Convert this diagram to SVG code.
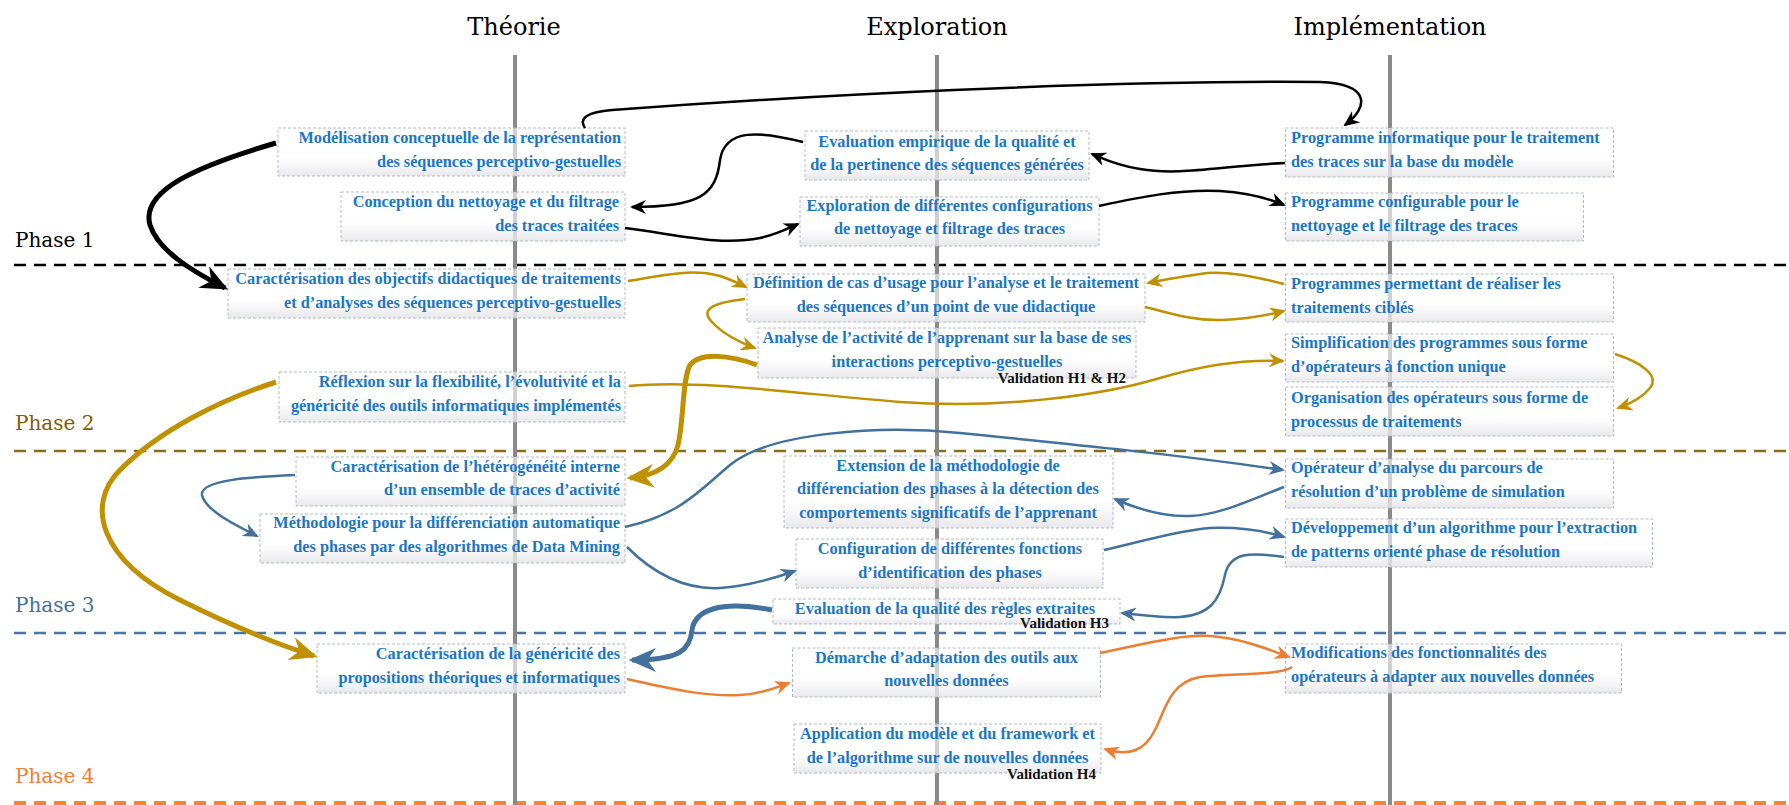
<svg xmlns="http://www.w3.org/2000/svg" width="1789" height="805" viewBox="0 0 1789 805">
<style>
.title{font-family:"DejaVu Serif","Liberation Serif",serif;font-size:24px;fill:#000}
.phase{font-family:"DejaVu Serif","Liberation Serif",serif;font-size:20px}
.box{fill:url(#boxg);stroke:#b4b8cc;stroke-width:1;stroke-dasharray:3 2}
.t{font-family:"Liberation Serif","Times New Roman",serif;font-weight:bold;font-size:16.3px;fill:#1b76c6}
.val{font-family:"Liberation Serif","Times New Roman",serif;font-weight:bold;font-size:15px;fill:#111;text-anchor:end}
.e{text-anchor:end}.m{text-anchor:middle}
.vl{stroke:#8a8a8a;stroke-width:4}
.c{fill:none;stroke-width:2.5}
.thick{stroke-width:5}
.k{stroke:#000}.g{stroke:#bf9000}.b{stroke:#41719c}.o{stroke:#ed7d31}
</style>
<defs>
<linearGradient id="boxg" x1="0" y1="0" x2="0" y2="1">
<stop offset="0" stop-color="#fff" stop-opacity="0.6"/>
<stop offset="0.6" stop-color="#fff" stop-opacity="0.6"/>
<stop offset="1" stop-color="#e4e4e8" stop-opacity="0.85"/>
</linearGradient>
<marker id="ak" viewBox="0 0 16 14" refX="14" refY="7" markerWidth="16" markerHeight="14" markerUnits="userSpaceOnUse" orient="auto"><path d="M0,0 L16,7 L0,14 L5,7 Z" fill="#000"/></marker>
<marker id="akB" viewBox="0 0 16 14" refX="14" refY="7" markerWidth="28" markerHeight="24" markerUnits="userSpaceOnUse" orient="auto"><path d="M0,0 L16,7 L0,14 L5,7 Z" fill="#000"/></marker>
<marker id="ag" viewBox="0 0 16 14" refX="14" refY="7" markerWidth="16" markerHeight="14" markerUnits="userSpaceOnUse" orient="auto"><path d="M0,0 L16,7 L0,14 L5,7 Z" fill="#bf9000"/></marker>
<marker id="agB" viewBox="0 0 16 14" refX="14" refY="7" markerWidth="28" markerHeight="24" markerUnits="userSpaceOnUse" orient="auto"><path d="M0,0 L16,7 L0,14 L5,7 Z" fill="#bf9000"/></marker>
<marker id="ab" viewBox="0 0 16 14" refX="14" refY="7" markerWidth="16" markerHeight="14" markerUnits="userSpaceOnUse" orient="auto"><path d="M0,0 L16,7 L0,14 L5,7 Z" fill="#41719c"/></marker>
<marker id="abB" viewBox="0 0 16 14" refX="14" refY="7" markerWidth="28" markerHeight="24" markerUnits="userSpaceOnUse" orient="auto"><path d="M0,0 L16,7 L0,14 L5,7 Z" fill="#41719c"/></marker>
<marker id="ao" viewBox="0 0 16 14" refX="14" refY="7" markerWidth="16" markerHeight="14" markerUnits="userSpaceOnUse" orient="auto"><path d="M0,0 L16,7 L0,14 L5,7 Z" fill="#ed7d31"/></marker>
</defs>
<rect width="1789" height="805" fill="#fff"/>

<g id="headers">
<text class="title" x="514" y="35" text-anchor="middle">Théorie</text>
<text class="title" x="937" y="35" text-anchor="middle">Exploration</text>
<text class="title" x="1390" y="35" text-anchor="middle">Implémentation</text>
</g>

<g id="phases">
<line x1="14" y1="265" x2="1789" y2="265" stroke="#000" stroke-width="2.5" stroke-dasharray="12 8"/>
<line x1="14" y1="451" x2="1789" y2="451" stroke="#8b6d14" stroke-width="2.5" stroke-dasharray="12 8"/>
<line x1="14" y1="633" x2="1789" y2="633" stroke="#4a74a5" stroke-width="2.5" stroke-dasharray="12 8"/>
<line x1="14" y1="803" x2="1789" y2="803" stroke="#f0843c" stroke-width="4" stroke-dasharray="12 8"/>
<text class="phase" x="15" y="247" fill="#000">Phase 1</text>
<text class="phase" x="15" y="430" fill="#7f6000">Phase 2</text>
<text class="phase" x="15" y="612" fill="#44709e">Phase 3</text>
<text class="phase" x="15" y="783" fill="#f07f35">Phase 4</text>
</g>

<g id="axes">
<line class="vl" x1="515" y1="55" x2="515" y2="805"/>
<line class="vl" x1="937" y1="55" x2="937" y2="805"/>
<line class="vl" x1="1390" y1="55" x2="1390" y2="805"/>
</g>

<g id="nodes">
<g id="nA"><rect class="box" x="278" y="128" width="347" height="48"/><text class="t e" x="621" y="143">Modélisation conceptuelle de la représentation</text><text class="t e" x="621" y="167">des séquences perceptivo-gestuelles</text></g>
<g id="nB"><rect class="box" x="341" y="192" width="284" height="49"/><text class="t e" x="619" y="207">Conception du nettoyage et du filtrage</text><text class="t e" x="619" y="231">des traces traitées</text></g>
<g id="nC"><rect class="box" x="805" y="131" width="284" height="49"/><text class="t m" x="947" y="147">Evaluation empirique de la qualité et</text><text class="t m" x="947" y="170">de la pertinence des séquences générées</text></g>
<g id="nD"><rect class="box" x="800" y="197" width="299" height="49"/><text class="t m" x="949.5" y="211">Exploration de différentes configurations</text><text class="t m" x="949.5" y="234">de nettoyage et filtrage des traces</text></g>
<g id="nE"><rect class="box" x="1285.5" y="128" width="328" height="49"/><text class="t" x="1291" y="143">Programme informatique pour  le traitement</text><text class="t" x="1291" y="167">des traces sur la base du modèle</text></g>
<g id="nF"><rect class="box" x="1285.5" y="193" width="298" height="48"/><text class="t" x="1291" y="207">Programme configurable pour le</text><text class="t" x="1291" y="231">nettoyage et le filtrage des traces</text></g>
<g id="nG"><rect class="box" x="228" y="269" width="397" height="49"/><text class="t e" x="621" y="284">Caractérisation des objectifs didactiques de traitements</text><text class="t e" x="621" y="308">et d’analyses des séquences perceptivo-gestuelles</text></g>
<g id="nH"><rect class="box" x="279" y="372" width="346" height="50"/><text class="t e" x="621" y="387">Réflexion sur la flexibilité, l’évolutivité et la</text><text class="t e" x="621" y="411">généricité des outils informatiques implémentés</text></g>
<g id="nI"><rect class="box" x="747" y="274" width="398" height="48"/><text class="t m" x="946" y="288">Définition de cas d’usage pour l’analyse et le traitement</text><text class="t m" x="946" y="312">des séquences d’un point de vue didactique</text></g>
<g id="nJ"><rect class="box" x="758" y="328" width="378" height="50"/><text class="t m" x="947" y="343">Analyse de l’activité de l’apprenant sur la base de ses</text><text class="t m" x="947" y="367">interactions perceptivo-gestuelles</text><text class="val" x="1126" y="383">Validation H1 &amp; H2</text></g>
<g id="nK"><rect class="box" x="1285.5" y="274" width="328" height="48"/><text class="t" x="1291" y="289">Programmes permettant de réaliser les</text><text class="t" x="1291" y="313">traitements ciblés</text></g>
<g id="nL"><rect class="box" x="1285.5" y="334" width="328" height="48"/><text class="t" x="1291" y="348">Simplification des programmes sous forme</text><text class="t" x="1291" y="372">d’opérateurs à fonction unique</text></g>
<g id="nM"><rect class="box" x="1285.5" y="387" width="328" height="49"/><text class="t" x="1291" y="403">Organisation des opérateurs sous forme de</text><text class="t" x="1291" y="427">processus de traitements</text></g>
<g id="nN"><rect class="box" x="296" y="457" width="329" height="49"/><text class="t e" x="620" y="472">Caractérisation de l’hétérogénéité interne</text><text class="t e" x="620" y="495">d’un ensemble de traces d’activité</text></g>
<g id="nO"><rect class="box" x="260" y="514" width="365" height="49"/><text class="t e" x="620" y="528">Méthodologie pour  la différenciation automatique</text><text class="t e" x="620" y="552">des phases par des algorithmes de Data Mining</text></g>
<g id="nP"><rect class="box" x="784" y="456" width="329" height="72"/><text class="t m" x="948" y="471">Extension de la méthodologie de</text><text class="t m" x="948" y="494">différenciation des phases à la détection des</text><text class="t m" x="948" y="518">comportements significatifs de l’apprenant</text></g>
<g id="nQ"><rect class="box" x="796" y="539" width="307" height="49"/><text class="t m" x="950" y="554">Configuration de différentes fonctions</text><text class="t m" x="950" y="578">d’identification des phases</text></g>
<g id="nR"><rect class="box" x="773" y="599" width="347" height="25"/><text class="t m" x="945" y="614">Evaluation de la qualité des règles extraites</text><text class="val" x="1109" y="628">Validation H3</text></g>
<g id="nS"><rect class="box" x="1285.5" y="459" width="328" height="49"/><text class="t" x="1291" y="473">Opérateur d’analyse du parcours de</text><text class="t" x="1291" y="497">résolution d’un problème de simulation</text></g>
<g id="nT"><rect class="box" x="1285.5" y="519" width="367" height="48"/><text class="t" x="1291" y="533">Développement d’un algorithme pour l’extraction</text><text class="t" x="1291" y="557">de patterns orienté phase de résolution</text></g>
<g id="nU"><rect class="box" x="317" y="644" width="308" height="49"/><text class="t e" x="620" y="659">Caractérisation de la généricité des</text><text class="t e" x="620" y="683">propositions théoriques et informatiques</text></g>
<g id="nV"><rect class="box" x="792.5" y="648" width="308" height="49"/><text class="t m" x="946.5" y="663">Démarche d’adaptation des outils aux</text><text class="t m" x="946.5" y="686">nouvelles données</text></g>
<g id="nW"><rect class="box" x="794" y="724" width="307" height="49"/><text class="t m" x="947.5" y="739">Application du modèle et du framework et</text><text class="t m" x="947.5" y="763">de l’algorithme sur de nouvelles données</text><text class="val" x="1096" y="779">Validation H4</text></g>
<g id="nX"><rect class="box" x="1285.5" y="644" width="336" height="49"/><text class="t" x="1291" y="658">Modifications des fonctionnalités des</text><text class="t" x="1291" y="682">opérateurs à adapter aux nouvelles données</text></g>
</g>

<g id="connectors">
<path class="c k" marker-end="url(#ak)" d="M585,128 C578,118 588,112 612,110 C800,96 1100,80 1320,82 C1372,84 1368,108 1345,125"/>
<path class="c k" marker-end="url(#ak)" d="M1285,163 C1220,166 1180,176 1140,169 C1115,165 1102,158 1092,154"/>
<path class="c k" marker-end="url(#ak)" d="M803,142 C760,131 725,128 720,160 C716,195 700,207 632,207"/>
<path class="c k" marker-end="url(#ak)" d="M625,228 C680,235 720,246 760,238 C775,235 787,229 798,224"/>
<path class="c k" marker-end="url(#ak)" d="M1099,206 C1140,197 1180,189 1220,191 C1250,193 1270,199 1284,205"/>
<path class="c k thick" marker-end="url(#akB)" d="M276,143 C200,165 140,190 150,225 C158,250 190,270 225,288"/>
<path class="c g" marker-end="url(#ag)" d="M628,281 C660,276 690,268 720,276 C732,280 740,284 746,287"/>
<path class="c g" marker-end="url(#ag)" d="M745,299 C718,302 698,308 712,322 C722,333 740,343 755,348"/>
<path class="c g" marker-end="url(#ag)" d="M1284,284 C1250,275 1220,270 1200,274 C1180,277 1162,280 1148,283"/>
<path class="c g" marker-end="url(#ag)" d="M1145,307 C1170,313 1192,321 1222,320 C1250,319 1268,315 1284,311"/>
<path class="c g" marker-end="url(#ag)" d="M629,386 C700,379 800,394 900,402 C1000,409 1100,396 1160,378 C1200,366 1240,359 1283,361"/>
<path class="c g" marker-end="url(#ag)" d="M1615,354 C1640,362 1660,375 1650,388 C1642,398 1630,404 1618,408"/>
<path class="c g thick" marker-end="url(#agB)" d="M757,365 C730,355 700,352 690,365 C682,380 684,420 678,445 C672,468 652,476 630,478"/>
<path class="c g thick" marker-end="url(#agB)" d="M276,382 C220,400 160,430 120,470 C85,505 100,560 180,600 C230,625 280,645 314,656"/>
<path class="c b" marker-end="url(#ab)" d="M295,475 C250,477 200,480 202,495 C205,510 235,525 257,536"/>
<path class="c b" marker-end="url(#ab)" d="M625,527 C680,515 700,490 730,465 C770,432 880,425 960,433 C1080,445 1180,455 1283,470"/>
<path class="c b" marker-end="url(#ab)" d="M1284,487 C1250,500 1220,515 1190,516 C1160,517 1135,508 1115,499"/>
<path class="c b" marker-end="url(#ab)" d="M627,547 C650,570 680,590 720,588 C750,586 775,578 795,571"/>
<path class="c b" marker-end="url(#ab)" d="M1104,550 C1140,542 1180,530 1210,528 C1240,527 1265,531 1284,537"/>
<path class="c b" marker-end="url(#ab)" d="M1284,557 C1250,552 1230,552 1225,575 C1220,600 1210,615 1180,617 C1160,618 1140,615 1122,613"/>
<path class="c b thick" marker-end="url(#abB)" d="M772,610 C720,600 695,610 692,630 C690,650 680,660 632,660"/>
<path class="c o" marker-end="url(#ao)" d="M627,679 C660,686 700,697 740,695 C760,694 775,688 789,683"/>
<path class="c o" marker-end="url(#ao)" d="M1100,653 C1140,645 1180,634 1210,636 C1240,638 1265,648 1289,657"/>
<path class="c o" marker-end="url(#ao)" d="M1292,667 C1280,676 1230,673 1200,677 C1170,682 1165,710 1155,730 C1145,750 1130,757 1105,749"/>
</g>
</svg>
